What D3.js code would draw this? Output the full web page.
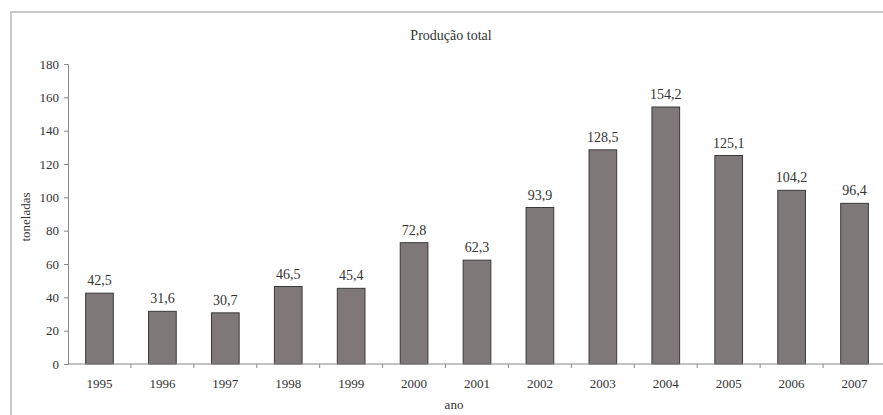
<!DOCTYPE html>
<html><head><meta charset="utf-8">
<script src="https://cdn.jsdelivr.net/npm/d3@7"></script>
<style>html,body{margin:0;padding:0;background:#fff;}svg{display:block;}</style>
</head><body>
<script>
const years = ["1995","1996","1997","1998","1999","2000","2001","2002","2003","2004","2005","2006","2007"];
const values = [42.5,31.6,30.7,46.5,45.4,72.8,62.3,93.9,128.5,154.2,125.1,104.2,96.4];
const yTicks = [0,20,40,60,80,100,120,140,160,180];
const title = "Produção total";
const yTitle = "toneladas";
const xTitle = "ano";

const W = 883, H = 415;
const FONT = '"Liberation Serif"';
const svg = d3.select("body").append("svg").attr("width", W).attr("height", H);

// outer frame
svg.append("rect").attr("x", 11).attr("y", 12).attr("width", W + 20).attr("height", H + 20)
  .attr("fill", "none").attr("stroke", "#c8c8c8").attr("stroke-width", 2);

const x = d3.scaleBand().domain(years).range([68, 886]).paddingInner(0.56).paddingOuter(0.28);
const y = d3.scaleLinear().domain([0, 180]).range([364, 64]);

// y axis
const yAxis = svg.append("g").attr("transform", "translate(68,0)")
  .call(d3.axisLeft(y).tickValues(yTicks).tickSize(4).tickPadding(5).tickFormat(d3.format("d")));
yAxis.select(".domain").attr("stroke", "#888");
yAxis.selectAll(".tick line").attr("stroke", "#888");
yAxis.selectAll("text").attr("fill", "#333").style("font-family", FONT).style("font-size", "13px");

// bars
svg.append("g").selectAll("rect").data(values).join("rect")
  .attr("x", (d, i) => x(years[i]))
  .attr("y", d => y(d))
  .attr("width", x.bandwidth())
  .attr("height", d => y(0) - y(d))
  .attr("fill", "#7f7879")
  .attr("stroke", "#3a3a3a").attr("stroke-width", 1);

// x axis baseline with ticks between categories
const step = x.step();
const xg = svg.append("g");
xg.append("line").attr("x1", 68).attr("x2", W).attr("y1", y(0)).attr("y2", y(0)).attr("stroke", "#888");
xg.selectAll("line.tk").data(years.slice(1)).join("line").attr("class", "tk")
  .attr("x1", d => x(d) + x.bandwidth() / 2 - step / 2)
  .attr("x2", d => x(d) + x.bandwidth() / 2 - step / 2)
  .attr("y1", y(0)).attr("y2", y(0) + 4).attr("stroke", "#888");
xg.selectAll("text").data(years).join("text")
  .attr("x", d => x(d) + x.bandwidth() / 2).attr("y", 388)
  .attr("text-anchor", "middle").attr("fill", "#333")
  .style("font-family", FONT).style("font-size", "13px")
  .text(d => d);

// value labels
svg.append("g").selectAll("text").data(values).join("text")
  .attr("x", (d, i) => x(years[i]) + x.bandwidth() / 2)
  .attr("y", d => y(d) - 8)
  .attr("text-anchor", "middle").attr("fill", "#333")
  .style("font-family", FONT).style("font-size", "14px")
  .text(d => d3.format(".1f")(d).replace(".", ","));

// titles
svg.append("text").attr("x", 451).attr("y", 40).attr("text-anchor", "middle")
  .style("font-family", FONT).style("font-size", "14px")
  .attr("fill", "#333").text(title);
svg.append("text").attr("transform", "translate(30,217) rotate(-90)").attr("text-anchor", "middle")
  .style("font-family", FONT).style("font-size", "13px")
  .attr("fill", "#333").text(yTitle);
svg.append("text").attr("x", 454).attr("y", 409).attr("text-anchor", "middle")
  .style("font-family", FONT).style("font-size", "13px")
  .attr("fill", "#333").text(xTitle);
</script>
</body></html>
